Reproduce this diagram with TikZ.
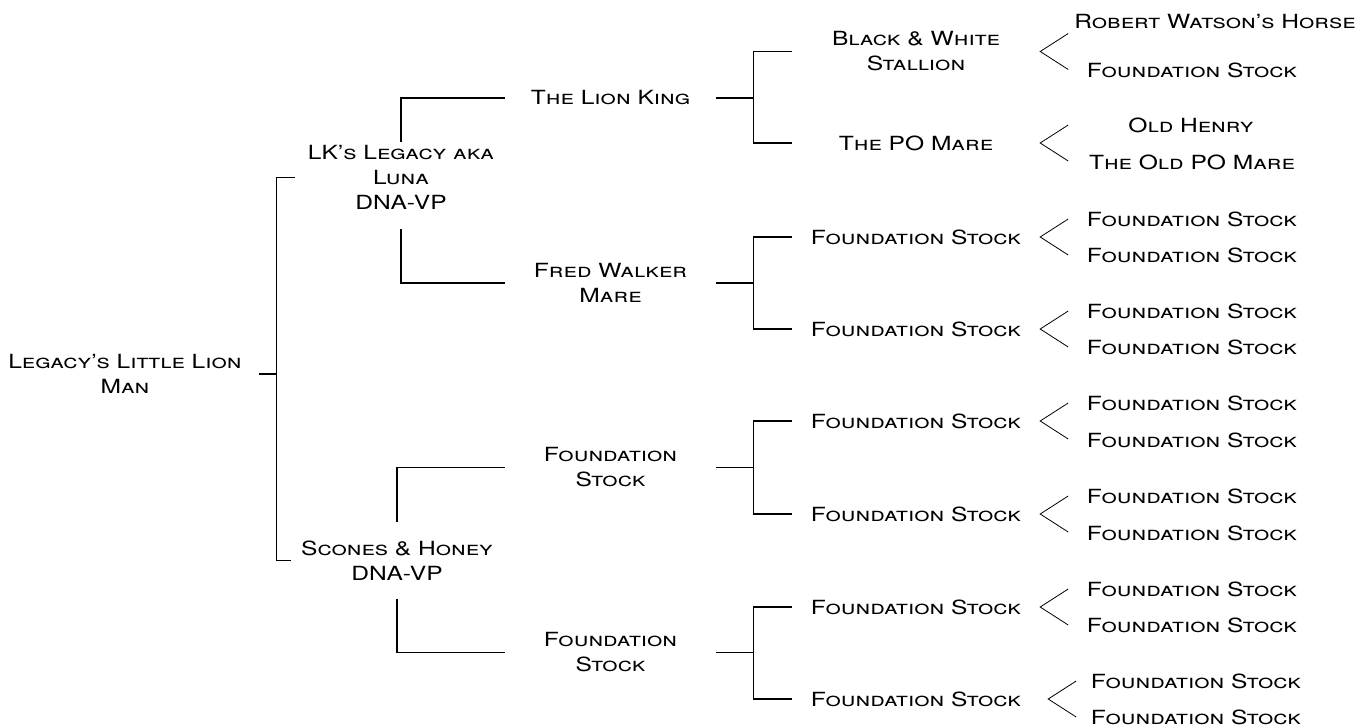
\documentclass[tikz,border=0pt]{standalone}
\usepackage{fontspec}
\setmainfont[FakeStretch=1.26]{TeX Gyre Heros}
\usetikzlibrary{calc}

\begin{document}
\begin{tikzpicture}[x=1pt,y=1pt,yscale=-1,xscale=1,
  every node/.style={font=\fontsize{19.5}{25}\selectfont\scshape, align=center, inner sep=0pt},
  root/.style={inner xsep=17pt},
  gen1/.style={minimum width=212pt, inner ysep=19pt},
  gen2/.style={minimum width=211pt},
  gen3/.style={minimum width=248pt},
  link/.style={draw=black, line width=1.1pt}]
\useasboundingbox (0,0) rectangle (1356,726);
%Root
\node[root] (llm) at (125,374) {Legacy's Little Lion\\Man};
%Parents
\node[gen1] (lk) at (401,177.5) {LK's Legacy aka\\Luna\\DNA-VP};
\node[gen1] (sh) at (397,560.5) {Scones \& Honey\\DNA-VP};
%Grandparents
\node[gen2] (lionking) at (610.5,98) {The Lion King};
\node[gen2] (fred) at (610.5,283) {Fred Walker\\Mare};
\node[gen2] (fsa) at (610.5,467.5) {Foundation\\Stock};
\node[gen2] (fsb) at (610.5,652.5) {Foundation\\Stock};
%Great grandparents
\node[gen3] (bw) at (916,51.5) {Black \& White\\Stallion};
\node[gen3] (pom) at (916,143) {The PO Mare};
\node[gen3] (fsc) at (916,237) {Foundation Stock};
\node[gen3] (fsd) at (916,329) {Foundation Stock};
\node[gen3] (fse) at (916,421) {Foundation Stock};
\node[gen3] (fsf) at (916,514) {Foundation Stock};
\node[gen3] (fsg) at (916,607) {Foundation Stock};
\node[gen3] (fsh) at (916,699) {Foundation Stock};
%Great great grandparents
\node (rwh) at (1215,22) {Robert Watson's Horse};
\node (fsi) at (1192,70) {Foundation Stock};
\node (oh) at (1191,125) {Old Henry};
\node (opm) at (1192,162) {The Old PO Mare};
\foreach \y [count=\i] in {219,255,311,347,403,440,496,533,589,625}
  \node (ffs\i) at (1192,\y) {Foundation Stock};
\node (ffs11) at (1196,681) {Foundation Stock};
\node (ffs12) at (1196,717) {Foundation Stock};
%Elbow lines
\draw[link] (llm.east) -- ++(18,0) coordinate (j0);
\draw[link] (lk.west) -| (j0) |- (sh.west);
\draw[link] ($(lk.north)+(0,16)$) |- (lionking.west);
\draw[link] (lk.south) |- (fred.west);
\draw[link] (sh.north) |- (fsa.west);
\draw[link] (sh.south) |- (fsb.west);
\draw[link] (lionking.east) -- ++(37,0) coordinate (j1);
\draw[link] (bw.west) -| (j1) |- (pom.west);
\draw[link] (fred.east) -- ++(37,0) coordinate (j2);
\draw[link] (fsc.west) -| (j2) |- (fsd.west);
\draw[link] (fsa.east) -- ++(37,0) coordinate (j3);
\draw[link] (fse.west) -| (j3) |- (fsf.west);
\draw[link] (fsb.east) -- ++(37,0) coordinate (j4);
\draw[link] (fsg.west) -| (j4) |- (fsh.west);
%Chevrons
\foreach \p in {bw,pom,fsc,fsd,fse,fsf,fsg}
  \draw[link, line width=0.8pt] ($(\p.east)+(28,-18)$) -- (\p.east) -- ($(\p.east)+(28,18)$);
\draw[link, line width=0.8pt] ($(fsh.east)+(36,-18)$) -- ($(fsh.east)+(8,0)$) -- ($(fsh.east)+(36,18)$);
\end{tikzpicture}
\end{document}
